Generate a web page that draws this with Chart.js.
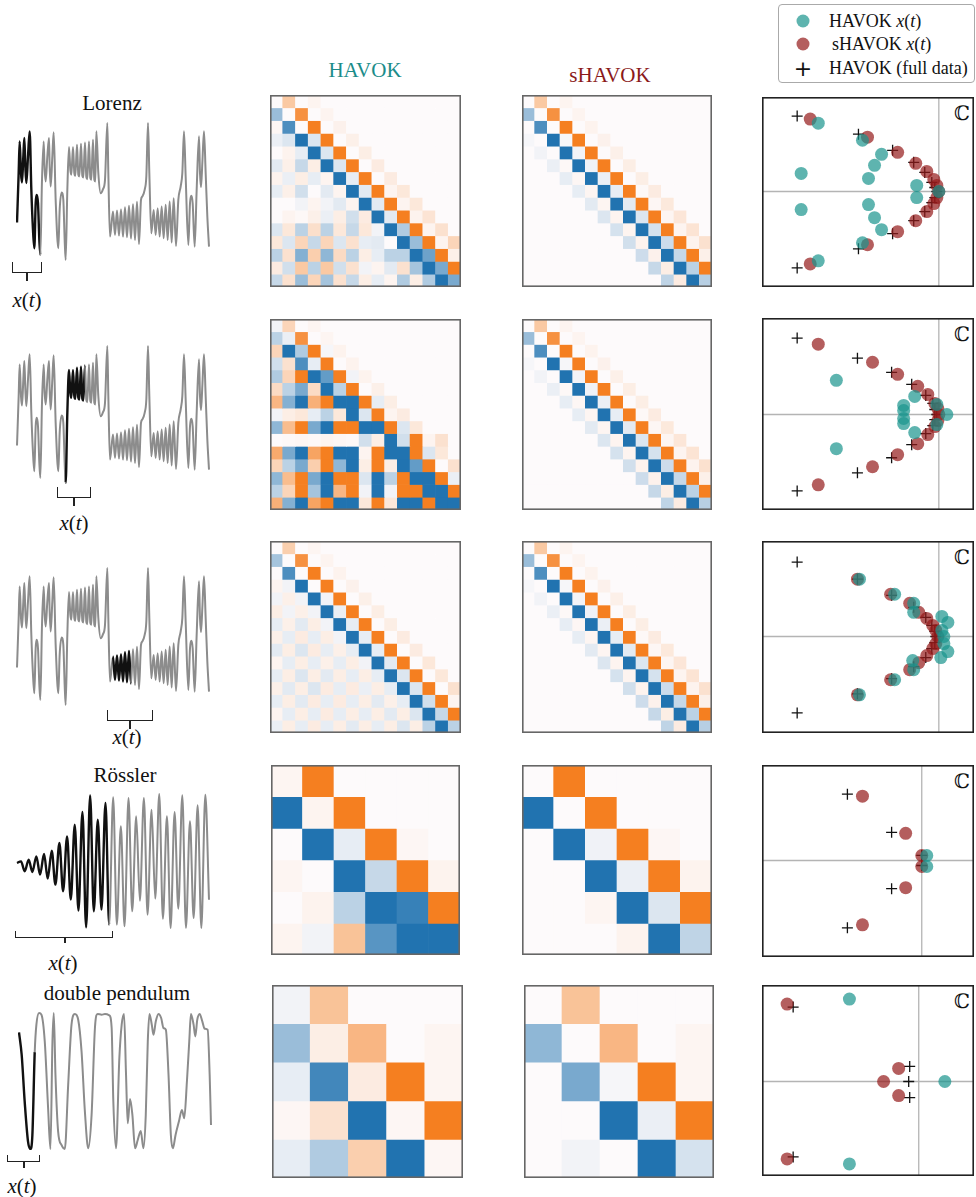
<!DOCTYPE html>
<html>
<head>
<meta charset="utf-8">
<script src="https://cdn.jsdelivr.net/npm/chart.js@4.4.1/dist/chart.umd.min.js"></script>
<style>
  body { margin: 0; background: #fff; width: 976px; height: 1197px; position: relative; overflow: hidden;
         font-family: "Liberation Serif", "Times New Roman", serif; color: #111; }
  canvas { position: absolute; }
  .lbl { position: absolute; white-space: nowrap; transform: translate(-50%, -50%); font-size: 21px; }
  .xt { position: absolute; white-space: nowrap; transform: translate(-50%, -50%); font-size: 21px;
        font-family: "Liberation Serif", serif; }
  .cc { position: absolute; font-family: "DejaVu Serif", serif; font-size: 20px; transform: translate(-50%, -50%); }
  .brk { position: absolute; border: 1.5px solid #222; border-top: none; box-sizing: border-box; }
  .tick { position: absolute; width: 1.5px; background: #222; }
  #legend { position: absolute; left: 778px; top: 4px; width: 197px; height: 79px; border: 1px solid #aaa;
            border-radius: 4px; box-sizing: border-box; font-size: 18px; }
  #legend .row { position: absolute; left: 50px; transform: translateY(-50%); white-space: nowrap; }
  #legend .dot { position: absolute; width: 13px; height: 13px; border-radius: 50%; transform: translate(-50%, -50%); }
  #legend .plus { position: absolute; transform: translate(-50%, -50%); font-size: 22px; font-family: "DejaVu Sans", sans-serif; }
</style>
</head>
<body>

<div class="lbl" style="left:365px;top:70px;color:#1b8c8a">HAVOK</div>
<div class="lbl" style="left:610px;top:75px;color:#8b1a1a">sHAVOK</div>

<div id="legend">
  <div class="dot" style="left:24px;top:16px;background:rgba(26,148,141,0.7)"></div>
  <div class="row" style="top:16px">HAVOK <i>x</i>(<i>t</i>)</div>
  <div class="dot" style="left:24px;top:39px;background:rgba(148,26,26,0.7)"></div>
  <div class="row" style="top:39px;left:53px">sHAVOK <i>x</i>(<i>t</i>)</div>
  <div class="plus" style="left:24px;top:63px">+</div>
  <div class="row" style="top:63px">HAVOK (full data)</div>
</div>

<div class="lbl" style="left:112px;top:103px">Lorenz</div>
<div class="lbl" style="left:125px;top:775px">Rössler</div>
<div class="lbl" style="left:117px;top:993px">double pendulum</div>

<div class="brk" style="left:12px;top:262px;width:30px;height:11px"></div>
<div class="tick" style="left:26px;top:272px;height:9px"></div>
<div class="xt" style="left:27px;top:300px"><i>x</i>(<i>t</i>)</div>

<div class="brk" style="left:57px;top:487px;width:34px;height:11px"></div>
<div class="tick" style="left:73px;top:497px;height:9px"></div>
<div class="xt" style="left:74px;top:523px"><i>x</i>(<i>t</i>)</div>

<div class="brk" style="left:107px;top:710px;width:46px;height:11px"></div>
<div class="tick" style="left:129px;top:720px;height:9px"></div>
<div class="xt" style="left:127px;top:737px"><i>x</i>(<i>t</i>)</div>

<div class="brk" style="left:15px;top:931px;width:98px;height:7px"></div>
<div class="tick" style="left:64px;top:937px;height:6px"></div>
<div class="xt" style="left:63px;top:963px"><i>x</i>(<i>t</i>)</div>

<div class="brk" style="left:7px;top:1155px;width:33px;height:7px"></div>
<div class="tick" style="left:23px;top:1161px;height:7px"></div>
<div class="xt" style="left:22px;top:1186px"><i>x</i>(<i>t</i>)</div>

<div class="cc" style="left:962px;top:113px">ℂ</div>
<div class="cc" style="left:962px;top:334px">ℂ</div>
<div class="cc" style="left:962px;top:557px">ℂ</div>
<div class="cc" style="left:962px;top:781px">ℂ</div>
<div class="cc" style="left:962px;top:1001px">ℂ</div>

<script>
// ---------- time series ----------
const lorenzT = [5.2, 5.7, 6.0, 6.4, 6.7, 7.1, 7.4, 7.7, 8.0, 8.5, 9.0, 9.5, 10.0, 10.4, 10.8, 11.1, 11.5, 11.9, 12.2,
  12.7, 13.2, 13.5, 13.8, 14.3, 14.8, 15.0, 15.3, 15.8, 16.2, 16.8, 17.6, 18.0, 18.6, 19.1, 19.5, 19.8,
  20.3, 20.8, 21.2, 21.5, 22.0, 22.4, 22.7, 23.2, 23.6, 23.9, 24.4, 24.8, 25.1, 25.6, 26.0, 26.3, 26.8,
  27.2, 27.5, 28.0, 28.4, 28.7, 29.0, 29.6, 30.3, 31.0, 31.6, 32.3, 32.6, 33.1,
  34.0, 34.6, 35.2, 35.8, 36.4, 37.0, 37.6, 38.2, 38.8, 39.4, 40.0, 40.6, 41.2, 41.8, 42.4, 42.8, 43.5, 44.0,
  44.5, 44.9, 45.5, 46.2, 46.8, 47.4, 48.0, 48.6, 49.2, 49.8, 50.4, 51.0, 51.6, 52.2, 52.9, 53.6, 54.3, 54.8,
  55.3, 55.8, 56.6, 57.1, 57.5, 57.9, 58.5, 59.1, 59.8, 60.1, 60.4, 60.8, 61.3, 61.8, 62.3, 62.8];
const lorenzX = [-9.8, 5.0, 14.5, 5.0, 2.2, 10.0, 15.5, 7.0, 2.0, 10.0, 17.5, 0, -12.0, -17.5, -4.0, -1.5, -4.0, -15.0, -19.5,
  3.0, 14.5, 6.0, 2.5, 10.0, 15.5, 7.0, 1.0, 10.0, 17.2, -3.0, -17.5, -6.0, -0.8, -3.0, -15.0, -21.0,
  0, 12.8, 6.0, 4.5, 12.8, 5.0, 4.2, 13.5, 4.5, 4.0, 13.8, 4.2, 3.7, 14.2, 3.8, 3.2, 14.5,
  3.5, 3.0, 15.0, 3.0, 2.5, 17.5, 5.0, -1.0, 0.2, 3.0, 20.0, 5.0, -14.0,
  -6.5, -13.5, -6.2, -13.7, -5.8, -14.0, -5.2, -14.2, -4.8, -14.6, -4.3, -15.0, -3.6, -16.2, -3.0, -2.0, 0, 4.0,
  20.0, 5.0, -13.0, -6.0, -13.5, -5.5, -14.0, -5.0, -14.5, -4.5, -15.0, -3.5, -15.8, -2.5, -16.8, -3.0, 1.0, 5.0,
  17.5, 4.0, -16.5, -4.0, -1.8, -4.0, -17.0, 0, 16.0, 5.0, 0.8, 8.0, 17.5, 5.0, -8.0, -17.0];
const lorenzWindows = [[5.2, 12.2], [19.6, 25.4], [33.6, 39.4]];

const rosslerT = [5.0, 6.2, 7.3, 8.5, 9.6, 10.8, 11.9, 13.1, 14.2, 15.4, 16.5, 17.7, 18.8, 20.0, 21.1, 22.3, 23.4,
  24.6, 25.7, 26.9, 28.0, 29.2, 30.3, 31.5, 32.6, 33.8, 34.9, 36.1, 37.2, 38.4, 39.5, 40.7, 41.8, 43.0, 44.1,
  45.3, 46.4, 47.6, 48.7, 49.9, 51.0, 52.2, 53.3, 54.5, 55.6, 56.8, 57.9, 59.1, 60.2, 61.4, 62.5];
const rosslerX = [0.5, 1.0, -2.0, 1.5, -2.2, 2.5, -3.0, 3.2, -4.2, 4.2, -6.0, 6.5, -8.0, 8.5, -10.5, 12.0, -13.8,
  15.8, -18.8, 20.8, -14.0, 13.5, -13.5, 18.5, -18.0, 20.2, -18.0, 11.5, -18.5, 20.0, -14.0, 14.5, -10.8, 20.0, -15.0,
  16.5, -10.2, 21.2, -16.2, 14.5, -19.0, 15.8, -13.2, 20.8, -19.0, 13.0, -16.0, 17.8, -19.0, 21.0, -10.5];
const rosslerWindow = [5.0, 32.4];

const pendT = [5.8, 6.6, 7.5, 8.5, 9.2, 9.8, 10.5, 11.0, 11.8, 12.5, 13.5, 14.5, 15.2, 15.8, 16.2, 16.7, 17.5, 18.5,
  19.5, 20.5, 21.5, 22.5, 23.5, 24.5, 25.5, 26.5, 27.5, 28.5, 29.3, 30.5, 31.5, 32.8, 33.5, 34.0, 34.8, 35.8,
  36.5, 37.2, 37.8, 38.3, 39.0, 39.7, 40.5, 41.3, 42.2, 43.0, 43.7, 44.3, 44.8, 45.5, 46.0, 46.7, 47.5, 48.3,
  49.0, 49.7, 50.5, 51.2, 51.8, 52.6, 53.6, 54.5, 55.2, 56.0, 56.7, 57.2, 58.0, 58.5, 59.1, 59.8, 60.6, 61.3,
  62.2, 62.8, 63.2];
const pendX = [14.7, 8.0, -6.0, -18.0, -20.2, -16.0, 8.8, 17.0, 20.5, 20.0, 12.0, -8.0, -20.2, 12.0, 20.5, 2.0, -15.0, -19.0,
  -20.2, -1.0, 17.0, 20.2, 18.5, 9.0, -9.0, -20.0, -10.0, 16.0, 20.2, 20.0, 20.2, 19.8, 16.0, -6.0, -20.0, 7.0,
  17.0, 20.2, 2.0, -12.5, -5.2, -10.0, -20.0, -17.5, -14.8, -20.0, -10.0, 12.0, 20.2, 17.0, 14.0, 18.0, 20.2, 19.0,
  16.0, 15.5, 2.0, -16.0, -20.0, -16.0, -12.0, -8.5, -11.0, 0, 12.0, 20.2, 17.0, 13.5, 18.5, 20.2, 18.0, 15.8,
  15.5, 2.0, -13.0];
const pendWindow = [5.8, 10.5];

// ---------- regression matrices (colour = value, -1 blue .. +1 orange) ----------
const lorenzHavok1 = [
  [0, .4, 0, .05, 0, 0, 0, 0, 0, 0, 0, 0, 0, 0, 0],
  [-.45, 0, .85, 0, .05, 0, 0, 0, 0, 0, 0, 0, 0, 0, 0],
  [.03, -.8, 0, 1, 0, .07, 0, 0, 0, 0, 0, 0, 0, 0, 0],
  [-.08, -.15, -1, -.15, 1, 0, .08, 0, 0, 0, 0, 0, 0, 0, 0],
  [0, .06, -.1, -1, -.15, 1, 0, .1, 0, 0, 0, 0, 0, 0, 0],
  [-.12, .08, -.25, .1, -1, -.15, 1, 0, .12, 0, 0, 0, 0, 0, 0],
  [.06, -.08, .1, -.1, .05, -1, -.1, 1, 0, .12, 0, 0, 0, 0, 0],
  [-.1, .08, -.2, 0, -.12, .05, -1, -.12, 1, .05, .15, 0, 0, 0, 0],
  [0, 0, -.05, .05, -.05, -.12, .05, -1, -.12, 1, .05, .15, 0, 0, 0],
  [0, .05, .02, .08, -.08, .1, -.2, .12, -1, -.12, 1, .06, .18, 0, 0],
  [-.15, .15, -.3, .22, -.3, .15, -.25, .15, -.05, -1, -.35, 1, .05, .2, 0],
  [.15, -.15, .3, -.25, .3, -.15, .2, -.1, -.12, 0, -1, -.45, 1, .05, .3],
  [-.3, .2, -.55, .35, -.5, .25, -.3, .1, -.1, -.3, -.3, -1, -.65, 1, .08],
  [.12, -.2, .4, -.3, .4, -.2, .2, -.05, .05, -.12, .2, -.4, -1, -.6, 1],
  [-.25, .2, -.45, .3, -.4, .2, -.25, .1, -.1, .05, -.35, .1, -.35, -1, -.6]
];
const lorenzHavok2 = [
  [-.05, .3, 0, .04, 0, 0, 0, 0, 0, 0, 0, 0, 0, 0, 0],
  [-.3, -.08, .85, 0, .04, 0, 0, 0, 0, 0, 0, 0, 0, 0, 0],
  [.3, -1, -.35, 1, -.03, .06, 0, 0, 0, 0, 0, 0, 0, 0, 0],
  [-.2, .2, -.8, -.1, 1, 0, .06, 0, 0, 0, 0, 0, 0, 0, 0],
  [-.35, .3, 1, -1, -.7, 1, -.05, .06, 0, 0, 0, 0, 0, 0, 0],
  [.25, -.3, -.6, .25, -1, -.3, 1, 0, .08, 0, 0, 0, 0, 0, 0],
  [.55, -.55, -1, .6, 1, -1, -1, 1, -.1, .1, 0, 0, 0, 0, 0],
  [-.05, .1, .15, -.1, -.3, .15, -1, -.15, 1, .05, .12, 0, 0, 0, 0],
  [-.5, .5, 1, -.6, -1, 1, 1, -1, -1, 1, -.15, .15, 0, 0, 0],
  [0, .02, .03, .02, .05, .03, .02, -.2, .1, -1, -.2, 1, .05, .2, 0],
  [.65, -.6, -1, .7, 1, -1, -1, .05, 1, -1, -1, 1, -.15, .15, 0],
  [.3, -.3, -.6, .35, 1, -.5, -1, .1, 1, .1, -1, -.7, 1, 0, .2],
  [-.5, .5, 1, -.6, -1, 1, 1, -.15, -1, -.3, 1, -1, -1, 1, -.08],
  [-.3, .3, 1, -.4, -1, .55, 1, -.05, -1, -.05, 1, 1, -1, -1, 1],
  [.6, -.55, -1, .7, 1, -1, -1, .15, 1, .15, -1, -1, 1, -1, -1]
];
const lorenzHavok3 = [
  [0, .35, 0, .04, 0, 0, 0, 0, 0, 0, 0, 0, 0, 0, 0],
  [-.4, 0, .85, 0, .05, 0, 0, 0, 0, 0, 0, 0, 0, 0, 0],
  [0, -.8, 0, 1, 0, .06, 0, 0, 0, 0, 0, 0, 0, 0, 0],
  [.05, -.05, -1, 0, 1, 0, .07, 0, 0, 0, 0, 0, 0, 0, 0],
  [-.05, .08, -.05, -1, -.05, 1, 0, .08, 0, 0, 0, 0, 0, 0, 0],
  [.1, -.05, .08, -.05, -1, -.08, 1, 0, .1, 0, 0, 0, 0, 0, 0],
  [-.1, .08, -.12, .1, -.05, -1, -.1, 1, 0, .1, 0, 0, 0, 0, 0],
  [.08, -.1, .12, -.1, .1, -.05, -1, -.1, 1, 0, .12, 0, 0, 0, 0],
  [-.12, .1, -.15, .12, -.1, .08, -.1, -1, -.1, 1, 0, .12, 0, 0, 0],
  [.05, -.1, .1, -.1, .08, -.1, .1, -.05, -1, -.12, 1, 0, .15, 0, 0],
  [-.1, .1, -.15, .1, -.12, .1, -.1, .1, -.1, -1, -.15, 1, 0, .15, 0],
  [.08, -.12, .1, -.15, .12, -.1, .12, -.08, .1, -.1, -1, -.15, 1, 0, .2],
  [-.1, .1, -.12, .12, -.1, .12, -.1, .1, -.12, .08, -.1, -1, -.2, 1, .05],
  [.05, -.1, .1, -.1, .12, -.1, .1, -.1, .1, -.12, .1, -.15, -1, -.25, 1],
  [-.08, .1, -.1, .12, -.1, .1, -.12, .1, -.1, .1, -.15, .1, -.3, -1, -.3]
];
const lorenzShavok = [
  [0, .4, 0, .05, 0, 0, 0, 0, 0, 0, 0, 0, 0, 0, 0],
  [-.45, 0, .85, 0, .05, 0, 0, 0, 0, 0, 0, 0, 0, 0, 0],
  [0, -.8, 0, 1, 0, .06, 0, 0, 0, 0, 0, 0, 0, 0, 0],
  [-.03, 0, -1, -.03, 1, 0, .07, 0, 0, 0, 0, 0, 0, 0, 0],
  [0, -.05, 0, -1, -.05, 1, 0, .08, 0, 0, 0, 0, 0, 0, 0],
  [0, 0, -.08, .02, -1, -.06, 1, 0, .1, 0, 0, 0, 0, 0, 0],
  [0, 0, 0, -.1, .03, -1, -.08, 1, 0, .1, 0, 0, 0, 0, 0],
  [0, 0, 0, 0, -.1, .04, -1, -.1, 1, .02, .12, 0, 0, 0, 0],
  [0, 0, 0, 0, 0, -.12, .04, -1, -.12, 1, .03, .14, 0, 0, 0],
  [0, 0, 0, 0, 0, 0, -.15, .05, -1, -.15, 1, .04, .16, 0, 0],
  [0, 0, 0, 0, 0, 0, 0, -.18, .05, -1, -.18, 1, .05, .18, 0],
  [0, 0, 0, 0, 0, 0, 0, 0, -.2, .06, -1, -.22, 1, .06, .2],
  [0, 0, 0, 0, 0, 0, 0, 0, 0, -.22, .07, -1, -.25, 1, .08],
  [0, 0, 0, 0, 0, 0, 0, 0, 0, 0, -.25, .1, -1, -.3, 1],
  [0, 0, 0, 0, 0, 0, 0, 0, 0, 0, 0, -.28, .12, -1, -.32]
];
const rosslerHavok = [
  [.04, 1, 0, 0, 0, 0],
  [-1, .05, 1, 0, 0, 0],
  [0, -1, -.1, 1, .03, 0],
  [.04, 0, -1, -.25, 1, .06],
  [0, .06, -.3, -1, -.9, 1],
  [.05, -.05, .45, -.75, -1, -1]
];
const rosslerShavok = [
  [0, 1, 0, 0, 0, 0],
  [-1, 0, 1, 0, 0, 0],
  [0, -1, -.06, 1, .03, 0],
  [0, 0, -1, -.08, 1, .06],
  [0, 0, .04, -1, -.15, 1],
  [0, 0, 0, .06, -1, -.28]
];
const pendHavok = [
  [-.05, .45, 0, 0, 0],
  [-.45, .1, .55, 0, .04],
  [-.1, -.85, .12, 1, .04],
  [.03, .2, -1, .03, 1],
  [-.1, -.35, .35, -1, .03]
];
const pendShavok = [
  [0, .45, 0, 0, 0],
  [-.5, 0, .55, 0, .04],
  [0, -.6, -.03, 1, .04],
  [0, 0, -1, -.08, 1],
  [0, -.05, 0, -1, -.18]
];

// ---------- eigenvalues [re, im] ----------
const lz1Havok = [[-120, 68], [-137, 18], [-76, 51], [-57, 37], [-64, 26], [-70, 13], [-22, 6], [0, 0],
  [-22, -6], [-70, -13], [-64, -26], [-57, -38], [-76, -51], [-137, -18], [-120, -69]];
const lz1Shavok = [[-128, 72], [-71, 54], [-41, 39], [-23, 28], [-12, 20], [-5, 12], [-2, 6], [0, 0],
  [-2, -6], [-5, -12], [-12, -20], [-23, -29], [-41, -40], [-71, -53], [-128, -72]];
const lz1Full = [[-141, 75], [-80, 57], [-46, 41], [-25, 29], [-14, 19], [-7, 9], [-4, 4], [-2, 0],
  [-4, -6], [-7, -11], [-14, -20], [-25, -29], [-46, -42], [-80, -57], [-141, -76]];

const lz2Havok = [[-102, 34], [-24, 18], [-35, 9], [-35, 4], [8, 0], [-2, 10], [-2, -10],
  [-35, -4], [-35, -9], [-24, -18], [-102, -34]];
const lz2Shavok = [[-120, 70], [-66, 52], [-41, 40], [-21, 28], [-11, 20], [-4, 11], [-1, 6], [0, 0],
  [-1, -6], [-4, -12], [-11, -20], [-21, -29], [-41, -40], [-66, -52], [-120, -70]];
const lz2Full = [[-141, 76], [-81, 56], [-47, 42], [-27, 30], [-13, 19], [-6, 11], [-4, 5], [-2, 0],
  [-4, -5], [-6, -11], [-13, -19], [-27, -30], [-47, -43], [-81, -58], [-141, -76]];

const lz3Havok = [[-79, 57], [-44, 42], [-25, 33], [-25, 24], [3, 20], [9, 14], [3, 6], [5, 0],
  [5, -7], [9, -15], [2, -21], [-26, -24], [-25, -33], [-44, -43], [-79, -58]];
const lz3Shavok = [[-81, 57], [-48, 42], [-29, 33], [-20, 24], [-12, 18], [-6, 11], [-3, 6], [-1, 0],
  [-3, -7], [-6, -12], [-12, -19], [-20, -26], [-29, -33], [-48, -43], [-81, -58]];
const lz3Full = [[-141, 74], [-81, 57], [-47, 41], [-25, 29], [-13, 19], [-7, 11], [-4, 5], [-3, 0],
  [-4, -6], [-7, -12], [-13, -21], [-25, -30], [-47, -42], [-81, -57], [-141, -76]];

const roHavok = [[5, 5], [5, -6]];
const roShavok = [[-59, 64], [-16, 27], [0, 5], [0, -6], [-16, -27], [-59, -64]];
const roFull = [[-74, 66], [-30, 28], [0, 5], [0, -5], [-30, -28], [-74, -67]];

const dpHavok = [[-69, 82], [26, 0], [-69, -82]];
const dpShavok = [[-131, 77], [-20, 13], [-35, 0], [-20, -14], [-131, -77]];
const dpFull = [[-125, 74], [-9, 15], [-10, 0], [-9, -16], [-125, -75]];

// ---------- helpers ----------
const NEG = [33, 115, 176], POS = [245, 127, 32], MID = [253, 250, 251];
const TEAL = 'rgba(26,148,141,0.7)', RED = 'rgba(148,26,26,0.7)';

function cmap(v) {
  const t = Math.min(1, Math.abs(v));
  const c = v < 0 ? NEG : POS;
  return 'rgb(' + MID.map((m, k) => Math.round(m + (c[k] - m) * t)).join(',') + ')';
}

function place(x, y, w, h) {
  const c = document.createElement('canvas');
  c.width = w; c.height = h;
  c.style.left = x + 'px'; c.style.top = y + 'px';
  c.style.width = w + 'px'; c.style.height = h + 'px';
  document.body.appendChild(c);
  return c;
}

const frame = (color) => ({
  id: 'frame',
  afterDraw(chart) {
    const { ctx, chartArea: a } = chart;
    ctx.save();
    ctx.strokeStyle = color;
    ctx.lineWidth = 1.6;
    ctx.strokeRect(a.left + 0.8, a.top + 0.8, a.width - 1.6, a.height - 1.6);
    ctx.restore();
  }
});

const zeroLines = {
  id: 'zeroLines',
  beforeDatasetsDraw(chart) {
    const { ctx, chartArea: a, scales } = chart;
    const x0 = scales.x.getPixelForValue(0), y0 = scales.y.getPixelForValue(0);
    ctx.save();
    ctx.strokeStyle = '#b4b4b4';
    ctx.lineWidth = 1.3;
    ctx.beginPath();
    ctx.moveTo(x0, a.top); ctx.lineTo(x0, a.bottom);
    ctx.moveTo(a.left, y0); ctx.lineTo(a.right, y0);
    ctx.stroke();
    ctx.restore();
  }
};

const base = {
  responsive: false,
  animation: false,
  events: [],
  plugins: { legend: { display: false }, tooltip: { enabled: false } },
};

function trace(x, y, w, h, T, X, win) {
  const pad = 3;
  const inside = c => T[c.p0DataIndex] >= win[0] && T[c.p0DataIndex] < win[1];
  new Chart(place(x - pad, y - pad, w + 2 * pad, h + 2 * pad), {
    type: 'line',
    data: {
      datasets: [{
        data: T.map((t, i) => ({ x: t, y: X[i] })),
        borderColor: '#8c8c8c',
        borderWidth: 2,
        pointRadius: 0,
        cubicInterpolationMode: 'monotone',
        segment: {
          borderColor: c => inside(c) ? '#111' : undefined,
          borderWidth: c => inside(c) ? 2.4 : undefined,
        }
      }]
    },
    options: {
      ...base,
      layout: { padding: pad, autoPadding: false },
      scales: {
        x: { type: 'linear', display: false, bounds: 'data' },
        y: { display: false, bounds: 'data' }
      }
    }
  });
}

function heat(x, y, w, h, M) {
  const n = M.length;
  new Chart(place(x, y, w, h), {
    type: 'bar',
    data: {
      labels: M.map((_, j) => j),
      datasets: M.map(row => ({
        data: row.map(() => 1),
        backgroundColor: row.map(cmap),
        borderWidth: 0,
        categoryPercentage: 1,
        barPercentage: 1,
      }))
    },
    options: {
      ...base,
      layout: { padding: 0, autoPadding: false },
      scales: {
        x: { display: false, stacked: true },
        y: { display: false, stacked: true, reverse: true, min: 0, max: n }
      }
    },
    plugins: [frame('#666')]
  });
}

function eig(x, y, w, h, xr, yr, havok, shavok, full) {
  const pts = a => a.map(([re, im]) => ({ x: re, y: im }));
  new Chart(place(x, y, w, h), {
    type: 'scatter',
    data: {
      datasets: [
        { data: pts(havok), backgroundColor: TEAL, borderWidth: 0, pointRadius: 6.5 },
        { data: pts(shavok), backgroundColor: RED, borderWidth: 0, pointRadius: 6.5 },
        { data: pts(full), pointStyle: 'cross', pointRadius: 5.5, borderColor: '#111', borderWidth: 1.3 }
      ]
    },
    options: {
      ...base,
      layout: { padding: 0, autoPadding: false },
      scales: {
        x: { display: false, min: xr[0], max: xr[1] },
        y: { display: false, min: yr[0], max: yr[1] }
      }
    },
    plugins: [zeroLines, frame('#222')]
  });
}

// ---------- column 1: time series ----------
trace(17, 123, 192, 137, lorenzT, lorenzX, lorenzWindows[0]);
trace(17, 346, 192, 137, lorenzT, lorenzX, lorenzWindows[1]);
trace(17, 568, 192, 137, lorenzT, lorenzX, lorenzWindows[2]);
trace(17, 794, 192, 134, rosslerT, rosslerX, rosslerWindow);
trace(19, 1013, 192, 136, pendT, pendX, pendWindow);

// ---------- columns 2 & 3: matrices ----------
heat(270, 95, 191, 192, lorenzHavok1);
heat(522, 95, 190, 192, lorenzShavok);
heat(270, 319, 191, 191, lorenzHavok2);
heat(522, 319, 190, 191, lorenzShavok);
heat(270, 541, 191, 192, lorenzHavok3);
heat(522, 541, 190, 192, lorenzShavok);
heat(271, 765, 189, 190, rosslerHavok);
heat(522, 765, 190, 190, rosslerShavok);
heat(272, 985, 191, 193, pendHavok);
heat(524, 985, 190, 193, pendShavok);

// ---------- column 4: eigenvalues ----------
eig(762, 97, 212, 190, [-176, 35], [-95, 94], lz1Havok, lz1Shavok, lz1Full);
eig(762, 318, 212, 192, [-176, 35], [-95, 96], lz2Havok, lz2Shavok, lz2Full);
eig(762, 541, 212, 192, [-176, 35], [-96, 95], lz3Havok, lz3Shavok, lz3Full);
eig(762, 765, 212, 192, [-159, 52], [-96, 95], roHavok, roShavok, roFull);
eig(762, 985, 212, 191, [-156, 55], [-94, 96], dpHavok, dpShavok, dpFull);
</script>
</body>
</html>
